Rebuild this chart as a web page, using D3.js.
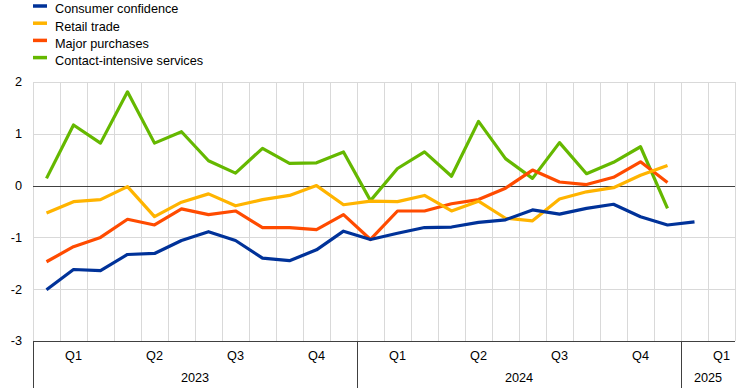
<!DOCTYPE html>
<html>
<head>
<meta charset="utf-8">
<script src="https://cdn.jsdelivr.net/npm/d3@7"></script>
<style>
  body { margin: 0; background: #fff; }
  svg text { font-family: Arial, "Liberation Sans", sans-serif; font-size: 12.7px; fill: #000; }
</style>
</head>
<body>
<svg id="chart" width="742" height="388"></svg>
<script>
// monthly, Jan 2023 .. Feb 2025
const months = d3.timeMonth.range(new Date(2023, 0, 1), new Date(2025, 2, 1));
const quarterLabels = ["Q1", "Q2", "Q3", "Q4", "Q1", "Q2", "Q3", "Q4", "Q1"];
const yearLabels = ["2023", "2024", "2025"];
const yTicks = [2, 1, 0, -1, -2, -3];

const seriesNames = ["Consumer confidence", "Retail trade", "Major purchases", "Contact-intensive services"];
const seriesColors = ["#003299", "#ffb400", "#ff4b00", "#65b800"];

const consumerConfidence = [-2.01, -1.62, -1.64, -1.33, -1.31, -1.06, -0.89, -1.06, -1.40, -1.45, -1.24, -0.88,
  -1.04, -0.92, -0.81, -0.80, -0.71, -0.66, -0.47, -0.55, -0.44, -0.36, -0.60, -0.76, -0.70];
const retailTrade = [-0.53, -0.31, -0.27, -0.02, -0.60, -0.32, -0.16, -0.39, -0.27, -0.19, 0.00, -0.37,
  -0.30, -0.31, -0.19, -0.49, -0.30, -0.63, -0.68, -0.26, -0.12, -0.04, 0.20, 0.39];
const majorPurchases = [-1.47, -1.18, -1.00, -0.65, -0.76, -0.45, -0.56, -0.49, -0.81, -0.81, -0.85, -0.56,
  -1.04, -0.49, -0.49, -0.35, -0.27, -0.05, 0.30, 0.07, 0.02, 0.16, 0.46, 0.06];
const contactServices = [0.14, 1.17, 0.82, 1.81, 0.82, 1.04, 0.48, 0.24, 0.72, 0.43, 0.44, 0.65,
  -0.29, 0.33, 0.65, 0.18, 1.24, 0.52, 0.14, 0.83, 0.23, 0.45, 0.75, -0.44];

const allSeries = [consumerConfidence, retailTrade, majorPurchases, contactServices];

const svg = d3.select("#chart");
const plotL = 33, plotR = 735, plotT = 82, plotB = 341;

const x = d3.scaleBand().domain(d3.range(months.length)).range([plotL, plotR]).padding(0);
const y = d3.scaleLinear().domain([-3, 2]).range([plotB, plotT]);
const bw = x.bandwidth();

// grid
svg.append("g").selectAll("line").data(yTicks.filter(d => d !== 0 && d !== -3)).join("line")
  .attr("x1", plotL).attr("x2", plotR)
  .attr("y1", d => Math.round(y(d)) + 0.5).attr("y2", d => Math.round(y(d)) + 0.5)
  .attr("stroke", "#d9d9d9").attr("stroke-width", 1);

svg.append("g").selectAll("line").data(d3.range(months.length + 1)).join("line")
  .attr("x1", i => Math.round(plotL + i * bw) + 0.5).attr("x2", i => Math.round(plotL + i * bw) + 0.5)
  .attr("y1", plotT).attr("y2", plotB)
  .attr("stroke", "#d9d9d9").attr("stroke-width", 1);

// zero line and bottom axis
svg.append("line").attr("x1", plotL).attr("x2", plotR)
  .attr("y1", Math.round(y(0)) + 0.5).attr("y2", Math.round(y(0)) + 0.5)
  .attr("stroke", "#404040");
svg.append("line").attr("x1", plotL).attr("x2", plotR)
  .attr("y1", Math.round(y(-3)) + 0.5).attr("y2", Math.round(y(-3)) + 0.5)
  .attr("stroke", "#404040");

// y labels
svg.append("g").selectAll("text").data(yTicks).join("text")
  .attr("x", 22).attr("y", d => y(d)).attr("dy", "0.35em")
  .attr("text-anchor", "end").text(d => d);

// quarter labels: middle month of each quarter
const quarterIdx = d3.range(quarterLabels.length).map(q => Math.min(q * 3 + 1, months.length - 1));
svg.append("g").selectAll("text").data(quarterLabels).join("text")
  .attr("x", (d, q) => x(quarterIdx[q]) + bw / 2).attr("y", 356).attr("dy", "0.35em")
  .attr("text-anchor", "middle").text(d => d);

// year separators and labels
const yearStart = yearLabels.map(yr => months.findIndex(m => m.getFullYear() === +yr));
const yearEnd = yearLabels.map((yr, k) => k < yearLabels.length - 1 ? yearStart[k + 1] : months.length);
svg.append("g").selectAll("line").data(yearStart).join("line")
  .attr("x1", i => Math.round(plotL + i * bw) + 0.5).attr("x2", i => Math.round(plotL + i * bw) + 0.5)
  .attr("y1", plotB).attr("y2", 388)
  .attr("stroke", "#404040");
svg.append("g").selectAll("text").data(yearLabels).join("text")
  .attr("x", (d, k) => plotL + (yearStart[k] + yearEnd[k]) / 2 * bw).attr("y", 378).attr("dy", "0.35em")
  .attr("text-anchor", "middle").text(d => d);

// lines
const line = d3.line().x((d, i) => x(i) + bw / 2).y(d => y(d));
[3, 2, 1, 0].forEach(k => {
  svg.append("path").datum(allSeries[k])
    .attr("d", line).attr("fill", "none")
    .attr("stroke", seriesColors[k]).attr("stroke-width", 3.2)
    .attr("stroke-linejoin", "round");
});

// legend
const lg = svg.append("g").selectAll("g").data(seriesNames).join("g")
  .attr("transform", (d, i) => `translate(0, ${6 + i * 17.2})`);
lg.append("line").attr("x1", 33).attr("x2", 47).attr("y1", 0).attr("y2", 0)
  .attr("stroke", (d, i) => seriesColors[i]).attr("stroke-width", 3.5);
lg.append("text").attr("x", 55).attr("y", 3).attr("dy", "0.35em").text(d => d);
</script>
</body>
</html>
